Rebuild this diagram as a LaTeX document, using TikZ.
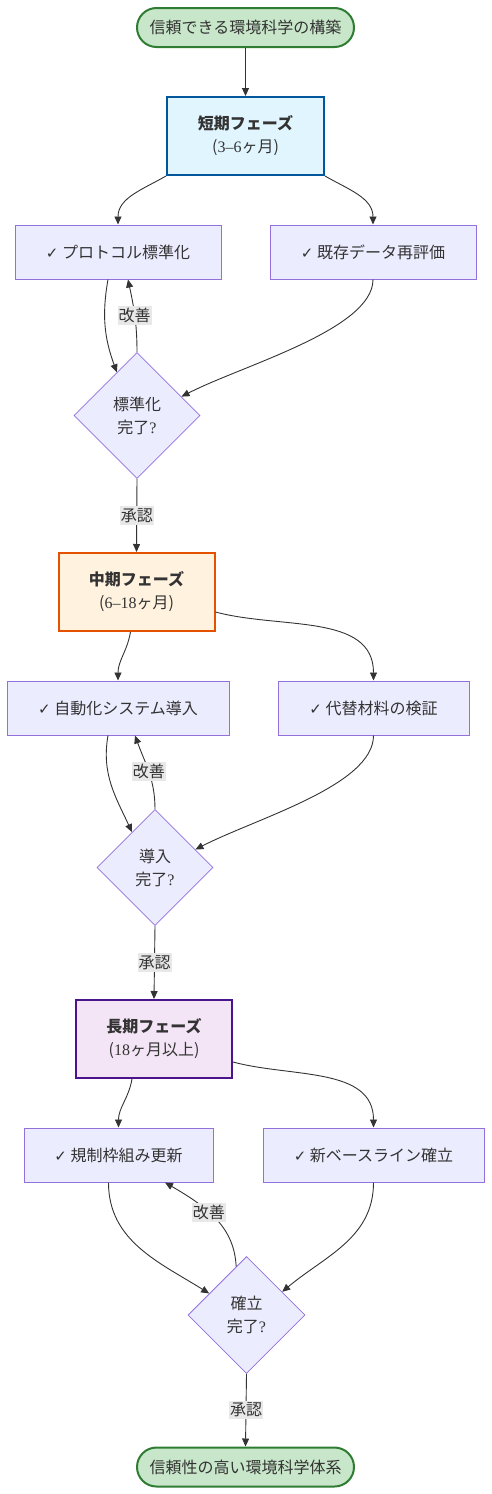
\documentclass[tikz,border=0pt]{standalone}
\usepackage{fontspec}
\setmainfont{Noto Sans CJK JP}
\newfontfamily\symf{DejaVu Sans}
\newfontfamily\lat{Liberation Serif}
\usetikzlibrary{shapes.geometric,arrows.meta,calc}
\definecolor{txt}{HTML}{333333}
\definecolor{edge}{HTML}{333333}
\definecolor{grfill}{HTML}{C8E6C9}
\definecolor{grdraw}{HTML}{2E7D32}
\definecolor{blfill}{HTML}{E1F5FE}
\definecolor{bldraw}{HTML}{01579B}
\definecolor{orfill}{HTML}{FFF3E0}
\definecolor{ordraw}{HTML}{E65100}
\definecolor{pufill}{HTML}{F3E5F5}
\definecolor{pudraw}{HTML}{4A148C}
\definecolor{mfill}{HTML}{ECECFF}
\definecolor{mdraw}{HTML}{9370DB}
\definecolor{lblbg}{HTML}{E8E8E8}
\newcommand{\ck}{{\symf\fontsize{15}{23}\selectfont ✓}\ }
\begin{document}
\begin{tikzpicture}[x=1pt,y=1pt,
  every node/.style={font=\fontsize{16}{23}\selectfont, text=txt, align=center},
  term/.style={draw=grdraw, fill=grfill, line width=2pt, rounded corners=19.5pt, minimum width=217pt, minimum height=39pt, inner sep=0pt},
  phase/.style={line width=2pt, minimum width=157pt, minimum height=78pt, inner sep=0pt},
  task/.style={draw=mdraw, fill=mfill, line width=1pt, minimum height=54pt, inner sep=0pt},
  dec/.style={draw=mdraw, fill=mfill, line width=0.8pt, diamond, inner sep=0pt},
  arr/.style={draw=edge, line width=0.9pt, -{Triangle[length=8pt,width=7pt]}},
  lbl/.style={fill=lblbg, inner xsep=1pt, inner ysep=2pt, font=\fontsize{16}{20}\selectfont}
]
\useasboundingbox (0,0) rectangle (492,-1494);
% nodes
\node[term] (start) at (245.5,-27.5) {信頼できる環境科学の構築};
\node[phase, draw=bldraw, fill=blfill] (short) at (245.5,-136) {\textbf{短期フェーズ}\\({\lat 3–6}ヶ月)};
\node[task, minimum width=206pt] (a1) at (118,-252) {\ck プロトコル標準化};
\node[task, minimum width=206pt] (b1) at (373,-252) {\ck 既存データ再評価};
\node[dec, minimum width=126pt, minimum height=126pt] (d1) at (137,-415.5) {標準化\\完了{\lat ?}};
\node[phase, draw=ordraw, fill=orfill, minimum width=156pt] (mid) at (136.5,-592) {\textbf{中期フェーズ}\\({\lat 6–18}ヶ月)};
\node[task, minimum width=222pt] (a2) at (118,-708) {\ck 自動化システム導入};
\node[task, minimum width=191pt] (b2) at (373.5,-708) {\ck 代替材料の検証};
\node[dec, minimum width=116pt, minimum height=116pt] (d2) at (155,-867.5) {導入\\完了{\lat ?}};
\node[phase, draw=pudraw, fill=pufill, minimum width=156pt] (long) at (154,-1039) {\textbf{長期フェーズ}\\({\lat 18}ヶ月以上)};
\node[task, minimum width=189pt] (a3) at (118.5,-1155) {\ck 規制枠組み更新};
\node[task, minimum width=221pt] (b3) at (373.5,-1155) {\ck 新ベースライン確立};
\node[dec, minimum width=117pt, minimum height=117pt] (d3) at (246.5,-1315) {確立\\完了{\lat ?}};
\node[term] (end) at (245.5,-1467) {信頼性の高い環境科学体系};
% edges
\draw[arr] (start) -- (short);
\draw[arr] (short.south west) to[out=210,in=90] (a1.north);
\draw[arr] (short.south east) to[out=-30,in=90] (b1.north);
\draw[arr] ($(a1.south)+(-10,0)$) to[out=-100,in=110] (d1.115);
\draw[arr] (d1.north) to[out=90,in=-78] node[lbl, pos=0.5] {改善} ($(a1.south)+(10,0)$);
\draw[arr] (b1.south) .. controls +(0,-50) and +(60,31) .. (d1.23);
\draw[arr] (d1.south) -- node[lbl] {承認} (mid.north);
\draw[arr] ($(mid.south)+(-6,0)$) to[out=-100,in=90] (a2.north);
\draw[arr] ($(mid.east)+(0,-20)$) to[out=-15,in=90] (b2.north);
\draw[arr] ($(a2.south)+(-10,0)$) to[out=-100,in=115] (d2.123);
\draw[arr] (d2.north) to[out=90,in=-70] node[lbl, pos=0.5] {改善} ($(a2.south)+(17,0)$);
\draw[arr] (b2.south) .. controls +(0,-50) and +(60,31) .. (d2.24);
\draw[arr] (d2.south) -- node[lbl] {承認} (long.north);
\draw[arr] ($(long.south)+(-22,0)$) to[out=-100,in=90] (a3.north);
\draw[arr] ($(long.east)+(0,-23)$) to[out=-15,in=90] (b3.north);
\draw[arr] ($(a3.south)+(-10,0)$) to[out=-90,in=148] (d3.150);
\draw[arr] (d3.102) .. controls +(-2,38) and +(45,-26) .. node[lbl, pos=0.6] {改善} ($(a3.south)+(46.5,0)$);
\draw[arr] (b3.south) to[out=-90,in=40] (d3.33);
\draw[arr] (d3.south) -- node[lbl] {承認} (end.north);
\end{tikzpicture}
\end{document}
